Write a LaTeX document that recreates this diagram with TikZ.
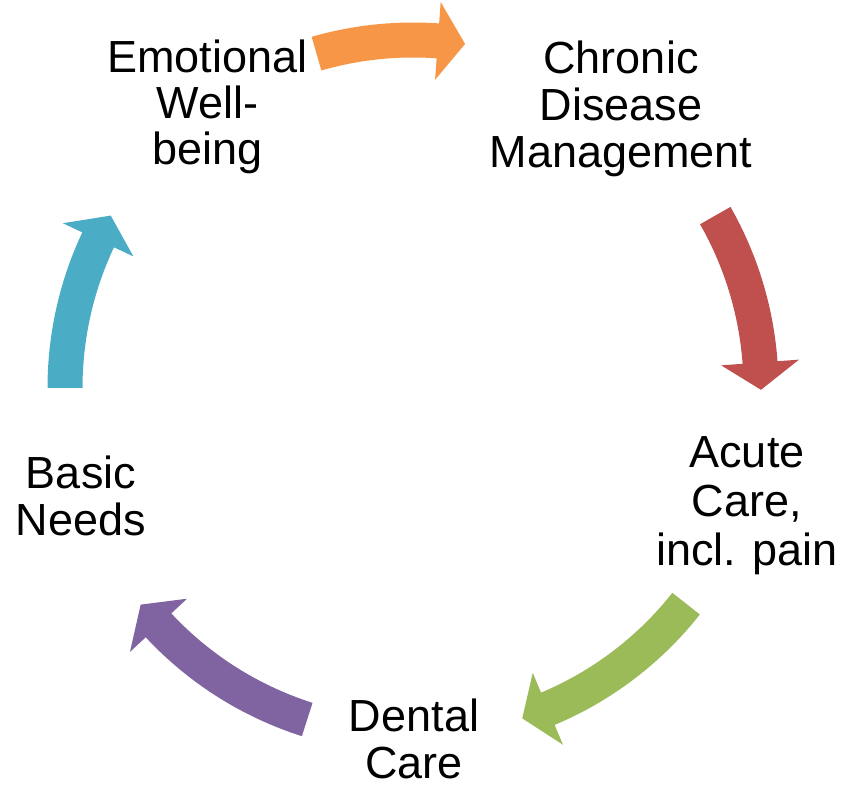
\documentclass[tikz,border=0pt]{standalone}
\usepackage{fontspec}
\setmainfont{Liberation Sans}
\definecolor{accorange}{HTML}{F79646}
\definecolor{accred}{HTML}{C0504D}
\definecolor{accgreen}{HTML}{9BBB59}
\definecolor{accpurple}{HTML}{8064A2}
\definecolor{accblue}{HTML}{4BACC6}
% curved block arrow on the ring: #1 colour, #2 tail angle, #3 tip angle (clockwise)
\newcommand\ringarrow[3]{%
  \pgfmathsetmacro\headbase{#3+4.5}%
  \fill[#1] (#2:365.5) arc[start angle=#2, end angle=\headbase, radius=365.5]
    -- (\headbase:387) -- (#3:348) -- (\headbase:309) -- (\headbase:330.5)
    arc[start angle=\headbase, end angle=#2, radius=330.5] -- cycle;}
\begin{document}
\begin{tikzpicture}[x=1pt,y=1pt,
  label/.style={align=center, anchor=base, inner sep=0pt, text=black,
    font=\fontsize{45}{47}\selectfont}]
\useasboundingbox (0,0) rectangle (842,784);
\begin{scope}[shift={(413,396)}]
  \ringarrow{accorange}{106.1}{81.4}
  \ringarrow{accred}{29.7}{-0.3}
  \ringarrow{accgreen}{-38.3}{-71.7}
  \ringarrow{accpurple}{252.3}{218.5}
  \ringarrow{accblue}{180}{150.3}
\end{scope}
% anchors sit on the baseline of each label's last line
\node[label] (chronic) at (621,616) {Chronic\\Disease\\Management};
\node[label, font=\fontsize{45}{46}\selectfont] (emotional) at (207.5,619) {Emotional\\Well-\\being};
\node[label, font=\fontsize{45}{49}\selectfont] (acute) at (747,218) {Acute\\Care,\\incl. pain};
\node[label] (basic) at (81,248) {Basic\\Needs};
\node[label] (dental) at (414,6) {Dental\\Care};
\end{tikzpicture}
\end{document}
